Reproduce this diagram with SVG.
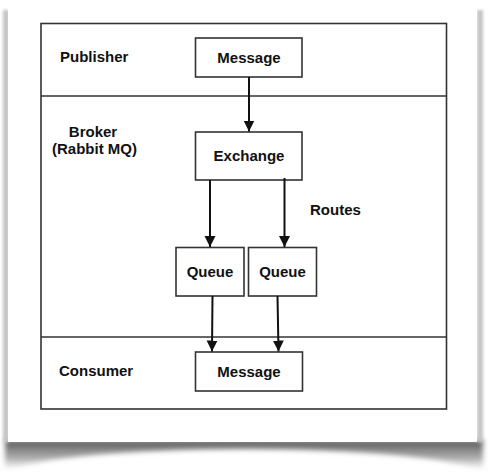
<svg xmlns="http://www.w3.org/2000/svg" width="488" height="476" viewBox="0 0 488 476">
<defs>
<style>
.box{fill:#fff;stroke:#333;stroke-width:1.6}
.lbl{font-family:"Liberation Sans",Arial,sans-serif;font-weight:bold;font-size:15px;fill:#111}
.c{text-anchor:middle}
.wire{stroke:#111;stroke-width:2;fill:none}
</style>
<marker id="ah" markerWidth="11" markerHeight="12" refX="11" refY="5.5" orient="auto" markerUnits="userSpaceOnUse" viewBox="0 0 11 11">
<path d="M0,0 L11,5.5 L0,11 Z" fill="#111"/>
</marker>
<filter id="blur" x="-10%" y="-50%" width="120%" height="200%"><feGaussianBlur stdDeviation="2.5"/></filter>
<filter id="blur2" x="-50%" y="-10%" width="200%" height="120%"><feGaussianBlur stdDeviation="1.5"/></filter>
<linearGradient id="bs" x1="0" y1="0" x2="0" y2="1">
<stop offset="0" stop-color="#555"/>
<stop offset="0.6" stop-color="#888" stop-opacity="0.7"/>
<stop offset="1" stop-color="#aaa" stop-opacity="0"/>
</linearGradient>
</defs>
<rect width="488" height="476" fill="#fff"/>
<g id="card">
<path d="M5,440 L483,440 L483,470 Q420,450 244,449 Q68,450 5,470 Z" fill="url(#bs)" filter="url(#blur)"/>
<rect x="3" y="10" width="6" height="432" fill="#c4c4c4" filter="url(#blur2)"/>
<rect x="477" y="10" width="6" height="432" fill="#c4c4c4" filter="url(#blur2)"/>
<rect x="8" y="4" width="469" height="438" fill="#fff"/>
</g>
<g id="frame">
<rect x="41" y="23.5" width="405.5" height="385.5" fill="none" stroke="#333" stroke-width="1.6"/>
<line x1="41" y1="96" x2="446.5" y2="96" stroke="#333" stroke-width="1.6"/>
<line x1="41" y1="337" x2="446.5" y2="337" stroke="#333" stroke-width="1.6"/>
</g>
<g id="lane-labels">
<text class="lbl" x="60" y="62">Publisher</text>
<text class="lbl c" x="93" y="137">Broker</text>
<text class="lbl c" x="94.5" y="154">(Rabbit MQ)</text>
<text class="lbl" x="59" y="376">Consumer</text>
<text class="lbl" x="310" y="215">Routes</text>
</g>
<g id="pub-message">
<rect class="box" x="195.5" y="38" width="106.5" height="39"/>
<text class="lbl c" x="249" y="63">Message</text>
</g>
<g id="exchange">
<rect class="box" x="195.5" y="132" width="106.5" height="48"/>
<text class="lbl c" x="249" y="161">Exchange</text>
</g>
<g id="queue1">
<rect class="box" x="176" y="247.5" width="68" height="48.5"/>
<text class="lbl c" x="210" y="277">Queue</text>
</g>
<g id="queue2">
<rect class="box" x="248.5" y="247.5" width="68" height="48.5"/>
<text class="lbl c" x="282.5" y="277">Queue</text>
</g>
<g id="con-message">
<rect class="box" x="195.5" y="352" width="107" height="39"/>
<text class="lbl c" x="249" y="377">Message</text>
</g>
<g id="connectors">
<line class="wire" x1="249" y1="77" x2="249" y2="131.5" marker-end="url(#ah)"/>
<line class="wire" x1="210" y1="180" x2="210" y2="247" marker-end="url(#ah)"/>
<line class="wire" x1="284.5" y1="178" x2="284.5" y2="247" marker-end="url(#ah)"/>
<line class="wire" x1="212.5" y1="296" x2="212" y2="351.5" marker-end="url(#ah)"/>
<line class="wire" x1="277.5" y1="296" x2="278.5" y2="351.5" marker-end="url(#ah)"/>
</g>
</svg>
